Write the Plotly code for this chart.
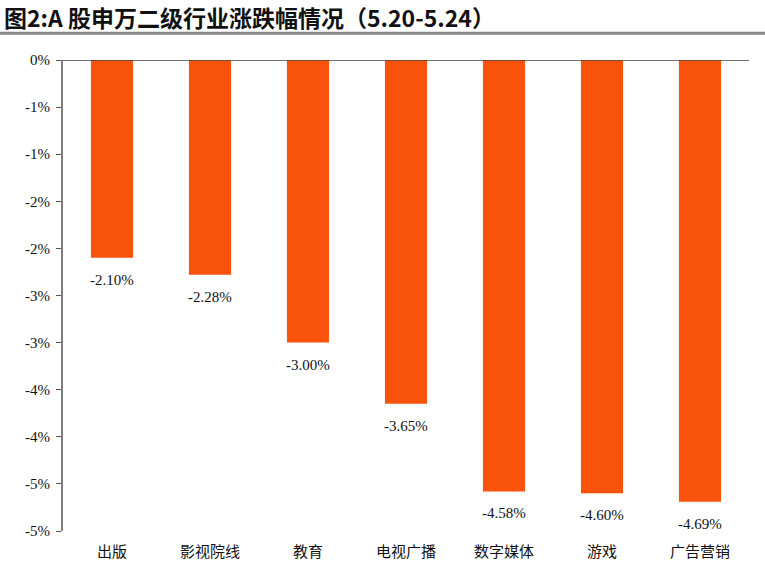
import plotly.graph_objects as go

categories = ["出版", "影视院线", "教育", "电视广播", "数字媒体", "游戏", "广告营销"]
values = [-2.10, -2.28, -3.00, -3.65, -4.58, -4.60, -4.69]
tick_vals = [0, -0.5, -1.0, -1.5, -2.0, -2.5, -3.0, -3.5, -4.0, -4.5, -5.0]
tick_text = ["0%", "-1%", "-1%", "-2%", "-2%", "-3%", "-3%", "-4%", "-4%", "-5%", "-5%"]
value_labels = [f"{v:.2f}%" for v in values]

serif = "Liberation Serif, Times New Roman, serif"
cjk = "Noto Sans CJK SC, sans-serif"

L, T, R, B = 63, 60, 16, 37
W, H = 765, 573
pw, ph = W - L - R, H - T - B

fig = go.Figure()
fig.add_trace(go.Bar(
    x=categories, y=values, width=0.43,
    marker=dict(color="#F9520B", line=dict(width=0)),
    hoverinfo="x+y",
))

for c, v, t in zip(categories, values, value_labels):
    fig.add_annotation(x=c, y=v, text=t, showarrow=False, yanchor="top",
                       yshift=-12, font=dict(family=serif, size=15, color="#111"))

fig.add_annotation(xref="paper", yref="paper", x=-(L - 2) / pw,
                   y=1 + (T - 17) / ph, xanchor="left", yanchor="middle",
                   text="<b>图2:A 股申万二级行业涨跌幅情况（5.20-5.24）</b>",
                   showarrow=False, font=dict(family=cjk, size=23, color="#111"))

fig.update_layout(
    width=W, height=H,
    margin=dict(l=L, r=R, t=T, b=B),
    paper_bgcolor="white", plot_bgcolor="white",
    showlegend=False,
)
sep_y = 1 + (T - 33) / ph
fig.add_shape(type="line", xref="paper", yref="paper",
              x0=-L / pw, x1=1 + R / pw, y0=sep_y, y1=sep_y,
              line=dict(color="#8a8a8a", width=3))

fig.update_yaxes(range=[-5.0, 0], tickvals=tick_vals, ticktext=tick_text,
                 showgrid=False, zeroline=False,
                 showline=True, linecolor="#7f7f7f", linewidth=2,
                 ticks="outside", ticklen=5, tickcolor="#555", tickwidth=1,
                 ticklabelstandoff=3,
                 tickfont=dict(family=serif, size=15, color="#111"))
fig.update_xaxes(showgrid=False, showline=False, ticks="",
                 ticklabelstandoff=10,
                 tickfont=dict(family=cjk, size=15, color="#111"))
fig.add_shape(type="line", xref="paper", yref="y", x0=0, x1=1, y0=0, y1=0,
              line=dict(color="#444", width=1.5))

fig.write_html("out.html", config={"displayModeBar": False},
               post_script="document.body.style.margin='0';document.body.style.overflow='hidden';")
